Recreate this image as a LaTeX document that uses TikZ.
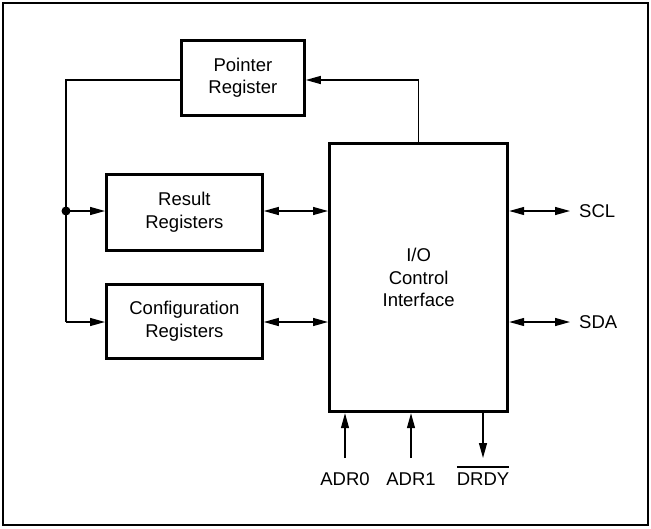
\documentclass[tikz,border=0pt]{standalone}
\usepackage{fontspec}
\setmainfont{Liberation Sans}
\usetikzlibrary{arrows.meta}

\newsavebox{\lblbox}
\newcommand{\notsig}[1]{\sbox{\lblbox}{#1}\rlap{\rule[\dimexpr\ht\lblbox+4.5pt\relax]{\wd\lblbox}{1.8pt}}\usebox{\lblbox}}

\begin{document}
\begin{tikzpicture}[
	x=1pt,y=-1pt,
	font=\fontsize{18.5}{22.5}\selectfont,
	box/.style={draw,line width=2.8pt,anchor=north west,align=center,inner sep=0pt},
	wire/.style={line width=1.3pt},
	tip/.style={-{Triangle[length=15pt,width=8pt]}},
	tips/.style={{Triangle[length=15pt,width=8pt]}-{Triangle[length=15pt,width=8pt]}},
	pin/.style={anchor=base,inner sep=0pt}
]
	\useasboundingbox (0,0) rectangle (651,528);
	\draw[line width=2.8pt] (3,3) rectangle (648,525);

	% blocks
	\node[box,minimum width=123pt,minimum height=75pt] (ptr) at (180,39) {Pointer\\Register};
	\node[box,minimum width=156pt,minimum height=76pt] (res) at (105,173) {Result\\Registers};
	\node[box,minimum width=156pt,minimum height=74pt] (cfg) at (105,283) {Configuration\\Registers};
	\node[box,line width=3.2pt,minimum width=178pt,minimum height=268pt] (io) at (328,142) {I/O\\Control\\Interface};

	% pins
	\node[pin,anchor=west] (scl) at (579,211) {SCL};
	\node[pin,anchor=west] (sda) at (579,322) {SDA};
	\node[pin] (adr0) at (345,485) {ADR0};
	\node[pin] (adr1) at (411,485) {ADR1};
	\node[pin] (drdy) at (483,485) {\notsig{DRDY}};

	\coordinate (top) at (66,80);
	\coordinate (jn) at (66,211);
	\coordinate (bot) at (66,322);
	\coordinate (a0) at (345,458);
	\coordinate (a1) at (411,458);
	\coordinate (dr) at (483,458);
	\coordinate (sclend) at (570,211);
	\coordinate (sdaend) at (570,322);

	% connectors
	\draw[wire] (ptr.west |- top) -- (top) -- (bot);
	\draw[wire,tip] (jn) -- (res.west |- jn);
	\draw[wire,tip] (bot) -- (cfg.west |- bot);
	\fill (jn) circle (4.5pt);
	\draw[wire,tip] (io.north) |- (ptr.east |- top);
	\draw[wire,tips] (res.east |- jn) -- (io.west |- jn);
	\draw[wire,tips] (cfg.east |- bot) -- (io.west |- bot);
	\draw[wire,tips] (io.east |- jn) -- (sclend);
	\draw[wire,tips] (io.east |- bot) -- (sdaend);
	\draw[wire,tip] (a0) -- (io.south -| a0);
	\draw[wire,tip] (a1) -- (io.south -| a1);
	\draw[wire,tip] (io.south -| dr) -- (dr);
\end{tikzpicture}
\end{document}
